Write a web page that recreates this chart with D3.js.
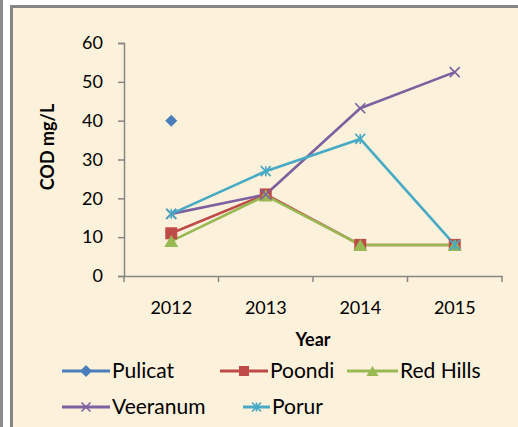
<!DOCTYPE html>
<html>
<head>
<meta charset="utf-8">
<script src="https://cdn.jsdelivr.net/npm/d3@7"></script>
<style>
  html, body { margin: 0; padding: 0; background: #fff; }
  svg { display: block; }
  text { font-family: Lato, "Open Sans", sans-serif; fill: #000; }
</style>
</head>
<body>
<div id="chart"></div>
<script>
var years = ["2012", "2013", "2014", "2015"];
var yTicks = [0, 10, 20, 30, 40, 50, 60];
var seriesNames = ["Pulicat", "Poondi", "Red Hills", "Veeranum", "Porur"];
var pulicat = [40, null, null, null];
var poondi = [11, 21, 8, 8];
var redHills = [9, 20.7, 8, 8];
var veeranum = [16, 21, 43.2, 52.5];
var porur = [16, 27, 35.3, 8];

var colors = ["#4a7ebb", "#be4b48", "#98b954", "#7d60a0", "#46aac5"];
var symbols = ["diamond", "square", "triangle", "x", "star"];
var allValues = [pulicat, poondi, redHills, veeranum, porur];

var W = 518, H = 427;
var margin = {left: 124, right: 16, top: 43, bottom: 151};

var svg = d3.select("#chart").append("svg")
    .attr("width", W).attr("height", H);

// frame
svg.append("rect").attr("x", 0).attr("y", 0).attr("width", W).attr("height", H).attr("fill", "#fff");
svg.append("rect").attr("x", 0).attr("y", 0).attr("width", 3).attr("height", H).attr("fill", "#8c8c8c");
svg.append("rect").attr("x", 10).attr("y", 5).attr("width", W - 10).attr("height", H - 5).attr("fill", "#fcf1da");
svg.append("rect").attr("x", 10).attr("y", 5).attr("width", 3).attr("height", H - 5).attr("fill", "#858585");
svg.append("rect").attr("x", 10).attr("y", 5).attr("width", W - 10).attr("height", 3).attr("fill", "#858585");

var x = d3.scaleBand().domain(years).range([margin.left, W - margin.right]);
var y = d3.scaleLinear().domain([0, 60]).range([H - margin.bottom, margin.top]);

// y axis
var yAxis = svg.append("g")
    .attr("transform", "translate(" + margin.left + ",0)")
    .call(d3.axisLeft(y).tickValues(yTicks).tickSize(6).tickPadding(15));
yAxis.select(".domain").attr("stroke", "#868686").attr("stroke-width", 1.5);
yAxis.selectAll(".tick line").attr("stroke", "#868686").attr("stroke-width", 1.5);
yAxis.selectAll(".tick text").style("font-size", "18px").style("font-family", "Lato, sans-serif").attr("fill", "#000");

// x axis
var xAxis = svg.append("g")
    .attr("transform", "translate(0," + y(0) + ")")
    .call(d3.axisBottom(x).tickSize(0).tickPadding(25).tickSizeOuter(0));
xAxis.select(".domain").attr("stroke", "#868686").attr("stroke-width", 1.5);
xAxis.selectAll(".tick text").style("font-size", "18px").style("font-family", "Lato, sans-serif").attr("fill", "#000");
var bounds = years.map(function(d) { return x(d); }).concat([x.range()[1]]);
svg.append("g").selectAll("line").data(bounds).enter().append("line")
    .attr("x1", function(d) { return d; }).attr("x2", function(d) { return d; })
    .attr("y1", y(0)).attr("y2", y(0) + 6)
    .attr("stroke", "#868686").attr("stroke-width", 1.5);

// axis titles
svg.append("text")
    .attr("transform", "translate(54,147) rotate(-90)")
    .attr("text-anchor", "middle")
    .style("font-size", "18px").style("font-weight", "bold")
    .text("COD mg/L");
svg.append("text")
    .attr("x", (x.range()[0] + x.range()[1]) / 2).attr("y", 346)
    .attr("text-anchor", "middle")
    .style("font-size", "18px").style("font-weight", "bold")
    .text("Year");

function drawMarker(g, type, color, size) {
  var s = size / 2;
  if (type === "diamond") {
    g.append("path").attr("d", "M0," + (-s - 1) + "L" + (s + 1) + ",0L0," + (s + 1) + "L" + (-s - 1) + ",0Z").attr("fill", color);
  } else if (type === "square") {
    g.append("rect").attr("x", -s).attr("y", -s).attr("width", size).attr("height", size).attr("fill", color);
  } else if (type === "triangle") {
    g.append("path").attr("d", "M0," + (-s) + "L" + (s + 1) + "," + s + "L" + (-s - 1) + "," + s + "Z").attr("fill", color);
  } else if (type === "x") {
    g.append("path").attr("d", "M" + (-s) + "," + (-s) + "L" + s + "," + s + "M" + (-s) + "," + s + "L" + s + "," + (-s))
      .attr("stroke", color).attr("stroke-width", 1.6).attr("fill", "none");
  } else if (type === "star") {
    g.append("path").attr("d", "M" + (-s) + "," + (-s) + "L" + s + "," + s + "M" + (-s) + "," + s + "L" + s + "," + (-s) + "M0," + (-s) + "L0," + s)
      .attr("stroke", color).attr("stroke-width", 1.6).attr("fill", "none");
  }
}

var cx = function(i) { return x(years[i]) + x.bandwidth() / 2; };
var line = d3.line()
    .defined(function(d) { return d !== null; })
    .x(function(d, i) { return cx(i); })
    .y(function(d) { return y(d); });

allValues.forEach(function(vals, k) {
  svg.append("path").datum(vals)
      .attr("d", line)
      .attr("fill", "none")
      .attr("stroke", colors[k])
      .attr("stroke-width", 2.6)
      .attr("stroke-linejoin", "round");
});
allValues.forEach(function(vals, k) {
  vals.forEach(function(v, i) {
    if (v === null) return;
    var g = svg.append("g").attr("transform", "translate(" + cx(i) + "," + y(v) + ")");
    drawMarker(g, symbols[k], colors[k], k === 0 ? 10 : (k >= 3 ? 10 : 12));
  });
});

// legend
var legendPos = [[62, 371, 48], [220, 371, 48], [347, 371, 51], [62, 407, 48], [243, 407, 27]];
seriesNames.forEach(function(name, k) {
  var p = legendPos[k];
  var g = svg.append("g").attr("transform", "translate(" + p[0] + "," + p[1] + ")");
  g.append("line").attr("x1", 0).attr("x2", p[2]).attr("y1", 0).attr("y2", 0)
    .attr("stroke", colors[k]).attr("stroke-width", 3);
  var m = g.append("g").attr("transform", "translate(" + (p[2] / 2) + ",0)");
  drawMarker(m, symbols[k], colors[k], k >= 3 ? 9 : 10);
  g.append("text").attr("x", p[2] + 2).attr("y", 7)
    .style("font-size", "21px")
    .text(name);
});
</script>
</body>
</html>
